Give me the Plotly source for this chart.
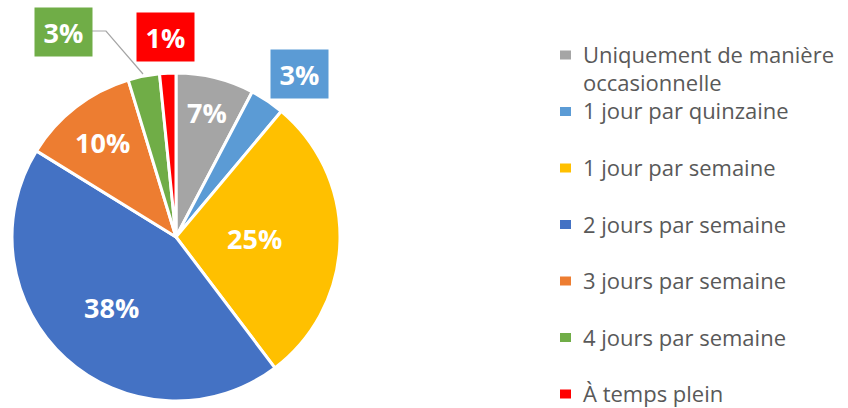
import math
import plotly.graph_objects as go

# ---- data ----
categories = [
    "Uniquement de manière<br>occasionnelle",
    "1 jour par quinzaine",
    "1 jour par semaine",
    "2 jours par semaine",
    "3 jours par semaine",
    "4 jours par semaine",
    "À temps plein",
]
shares = [7.7, 3.4, 28.6, 44.1, 11.5, 3.1, 1.6]
pct_labels = ["7%", "3%", "25%", "38%", "10%", "3%", "1%"]
colors = ["#A5A5A5", "#5B9BD5", "#FFC000", "#4472C4", "#ED7D31", "#70AD47", "#FF0000"]

# ---- layout constants ----
W, H = 848, 408
CX, CY, R = 176, 237, 164


def px(x):
    return x / W


def py(y):
    return 1 - y / H


fig = go.Figure(
    go.Pie(
        labels=categories,
        values=shares,
        sort=False,
        direction="clockwise",
        rotation=0,
        marker=dict(colors=colors, line=dict(color="white", width=3)),
        textinfo="none",
        hoverinfo="label+percent",
        domain=dict(x=[px(CX - R), px(CX + R)], y=[py(CY + R), py(CY - R)]),
        showlegend=False,
    )
)

# label placement: inside labels at a radial fraction, outside labels as boxes
inside_frac = {0: 0.78, 2: 0.48, 3: 0.58, 4: 0.73}
outside_box = {1: (299.5, 73.5), 5: (63.5, 32.5), 6: (165.5, 37)}

total = sum(shares)
annotations = []
shapes = []
cum = 0.0
for i, v in enumerate(shares):
    mid = (cum + v / 2) / total * 2 * math.pi
    cum += v
    font = dict(family="Open Sans", size=27, color="white", weight="bold")
    if i in inside_frac:
        r = R * inside_frac[i]
        x = CX + r * math.sin(mid)
        y = CY - r * math.cos(mid)
        annotations.append(dict(x=px(x), y=py(y), xref="paper", yref="paper",
                                text=pct_labels[i], showarrow=False, font=font,
                                xanchor="center", yanchor="middle"))
    else:
        bx, by = outside_box[i]
        annotations.append(dict(x=px(bx), y=py(by), xref="paper", yref="paper",
                                text=pct_labels[i], showarrow=False, font=font,
                                bgcolor=colors[i], width=55, height=46,
                                xanchor="center", yanchor="middle"))

# leader line for the green label
shapes.append(dict(type="path", xref="paper", yref="paper",
                   path=f"M {px(92)},{py(31)} L {px(106)},{py(31)} L {px(143)},{py(74)}",
                   line=dict(color="#A5A5A5", width=1.2)))

# custom legend
row0, step, line_gap = 55, 56.5, 28
for i, lab in enumerate(categories):
    yc = row0 + i * step
    shapes.append(dict(type="rect", xref="paper", yref="paper",
                       x0=px(560), x1=px(571), y0=py(yc + 4.5), y1=py(yc - 4.5),
                       fillcolor=colors[i], line=dict(width=0)))
    for j, line in enumerate(lab.split("<br>")):
        annotations.append(dict(x=px(581), y=py(yc - 1 + j * line_gap), xref="paper", yref="paper",
                                text=line, showarrow=False,
                                font=dict(family="Open Sans", size=22, color="#595959"),
                                xanchor="left", yanchor="middle"))

fig.update_layout(
    width=W, height=H,
    margin=dict(l=0, r=0, t=0, b=0),
    paper_bgcolor="white", plot_bgcolor="white",
    annotations=annotations, shapes=shapes,
)

fig.write_html("out.html", config={"displayModeBar": False},
               post_script="document.body.style.margin='0px';")
